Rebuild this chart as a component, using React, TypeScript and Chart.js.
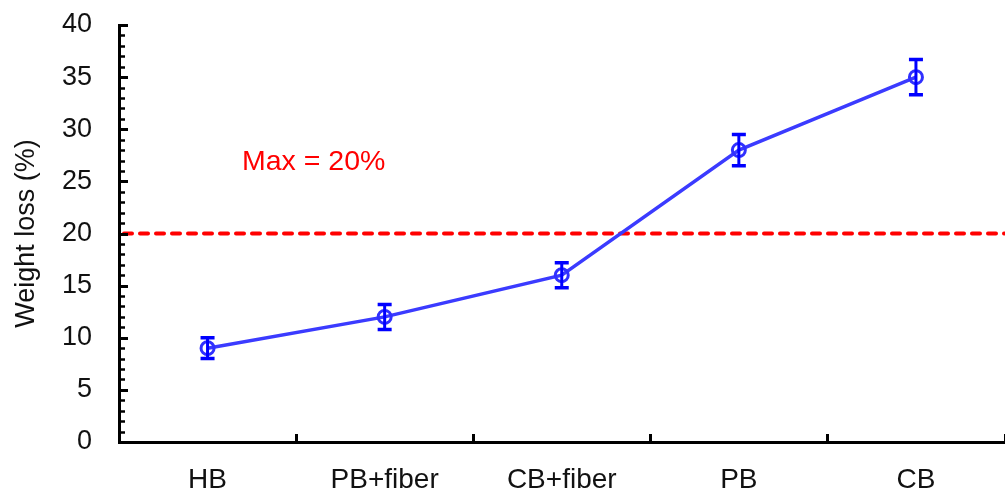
import { useEffect, useRef } from 'react';
import { Chart, registerables } from 'chart.js';

Chart.register(...registerables);

const categories = ['HB', 'PB+fiber', 'CB+fiber', 'PB', 'CB'];
const weightLoss = [9, 12, 16, 28, 35];
const weightLossError = [1.0, 1.2, 1.2, 1.5, 1.7];
const yMin = 0;
const yMax = 40;
const yMajorStep = 5;
const yMinorStep = 1;
const maxLimit = 20;
const maxLabel = 'Max = 20%';
const yTitle = 'Weight loss (%)';

const FONT = '"Liberation Sans", Arial, Helvetica, sans-serif';

const decorPlugin = {
  id: 'decor',
  beforeDatasetsDraw(chart: any) {
    const { ctx, chartArea, scales } = chart;
    const y = scales.y.getPixelForValue(maxLimit);
    ctx.save();
    ctx.strokeStyle = '#ff0000';
    ctx.lineWidth = 4;
    ctx.setLineDash([8, 8]);
    ctx.lineCap = 'round';
    ctx.beginPath();
    ctx.moveTo(chartArea.left + 5, y);
    ctx.lineTo(chartArea.right, y);
    ctx.stroke();
    ctx.restore();

    // annotation text
    ctx.save();
    ctx.fillStyle = '#ff0000';
    ctx.font = `28.5px ${FONT}`;
    ctx.textAlign = 'left';
    ctx.textBaseline = 'middle';
    const tx = scales.x.getPixelForValue(-0.5) + 123;
    const ty = scales.y.getPixelForValue(26.8);
    ctx.fillText(maxLabel, tx, ty);
    ctx.restore();
  },
  afterDatasetsDraw(chart: any) {
    const { ctx, scales } = chart;
    const meta = chart.getDatasetMeta(0);
    ctx.save();
    ctx.strokeStyle = '#0000ff';
    weightLoss.forEach((v, i) => {
      const pt = meta.data[i];
      if (!pt) return;
      const x = pt.x;
      const yt = scales.y.getPixelForValue(v + weightLossError[i]);
      const yb = scales.y.getPixelForValue(v - weightLossError[i]);
      ctx.lineWidth = 3;
      ctx.beginPath();
      ctx.moveTo(x, yt);
      ctx.lineTo(x, yb);
      ctx.stroke();
      ctx.lineWidth = 3.5;
      ctx.beginPath();
      ctx.moveTo(x - 7, yt);
      ctx.lineTo(x + 7, yt);
      ctx.moveTo(x - 7, yb);
      ctx.lineTo(x + 7, yb);
      ctx.stroke();
    });
    ctx.restore();
  },
  afterDraw(chart: any) {
    const { ctx, chartArea, scales } = chart;
    ctx.save();
    ctx.strokeStyle = '#000';
    // y ticks (inward)
    for (let v = yMin; v <= yMax; v += yMinorStep) {
      const y = Math.round(scales.y.getPixelForValue(v)) + 0.5;
      const major = v % yMajorStep === 0;
      ctx.lineWidth = major ? 3 : 2.5;
      ctx.beginPath();
      ctx.moveTo(chartArea.left, y);
      ctx.lineTo(chartArea.left + (major ? 9 : 6), y);
      ctx.stroke();
    }
    // x ticks between categories (inward)
    for (let i = 1; i <= categories.length; i++) {
      const x = Math.round(scales.x.getPixelForValue(i - 0.5)) + 0.5;
      ctx.lineWidth = 3;
      ctx.beginPath();
      ctx.moveTo(x, chartArea.bottom);
      ctx.lineTo(x, chartArea.bottom - 8);
      ctx.stroke();
    }
    ctx.restore();
  },
};

export default function App() {
  const canvasRef = useRef<HTMLCanvasElement | null>(null);

  useEffect(() => {
    if (!canvasRef.current) return;
    const chart = new Chart(canvasRef.current, {
      type: 'line',
      data: {
        labels: categories,
        datasets: [
          {
            label: yTitle,
            data: weightLoss,
            borderColor: '#3b3bff',
            borderWidth: 3.5,
            pointRadius: 6.5,
            pointBorderWidth: 3,
            pointBorderColor: '#3030ff',
            pointBackgroundColor: 'rgba(0,0,0,0)',
            tension: 0,
            fill: false,
          },
        ],
      },
      options: {
        animation: false,
        responsive: true,
        maintainAspectRatio: false,
        layout: { padding: { top: 25, right: 0, bottom: 0, left: 0 } },
        plugins: {
          legend: { display: false },
          tooltip: { enabled: false },
        },
        scales: {
          x: {
            type: 'category',
            offset: true,
            grid: { display: false, drawTicks: true, tickLength: 21 },
            border: { display: true, width: 3, color: '#000' },
            ticks: {
              color: '#111',
              font: { family: FONT, size: 28 },
              padding: 0,
              maxRotation: 0,
              autoSkip: false,
            },
            afterFit(scale: any) {
              scale.height = 52;
            },
          },
          y: {
            min: yMin,
            max: yMax,
            grid: { display: false, drawTicks: true, tickLength: 27 },
            border: { display: true, width: 3, color: '#000' },
            ticks: {
              stepSize: yMajorStep,
              color: '#111',
              font: { family: FONT, size: 27 },
              padding: 0,
            },
            title: {
              display: true,
              text: yTitle,
              color: '#111',
              font: { family: FONT, size: 27 },
              padding: { top: 10, bottom: 0 },
            },
            afterFit(scale: any) {
              scale.width = 119;
            },
          },
        },
      },
      plugins: [decorPlugin],
    });
    return () => chart.destroy();
  }, []);

  return (
    <div style={{ position: 'fixed', left: 0, top: 0, width: 1005, height: 494, overflow: 'hidden', background: '#fff' }}>
      <div style={{ position: 'relative', width: 1014, height: 494 }}>
        <canvas ref={canvasRef} />
      </div>
    </div>
  );
}
